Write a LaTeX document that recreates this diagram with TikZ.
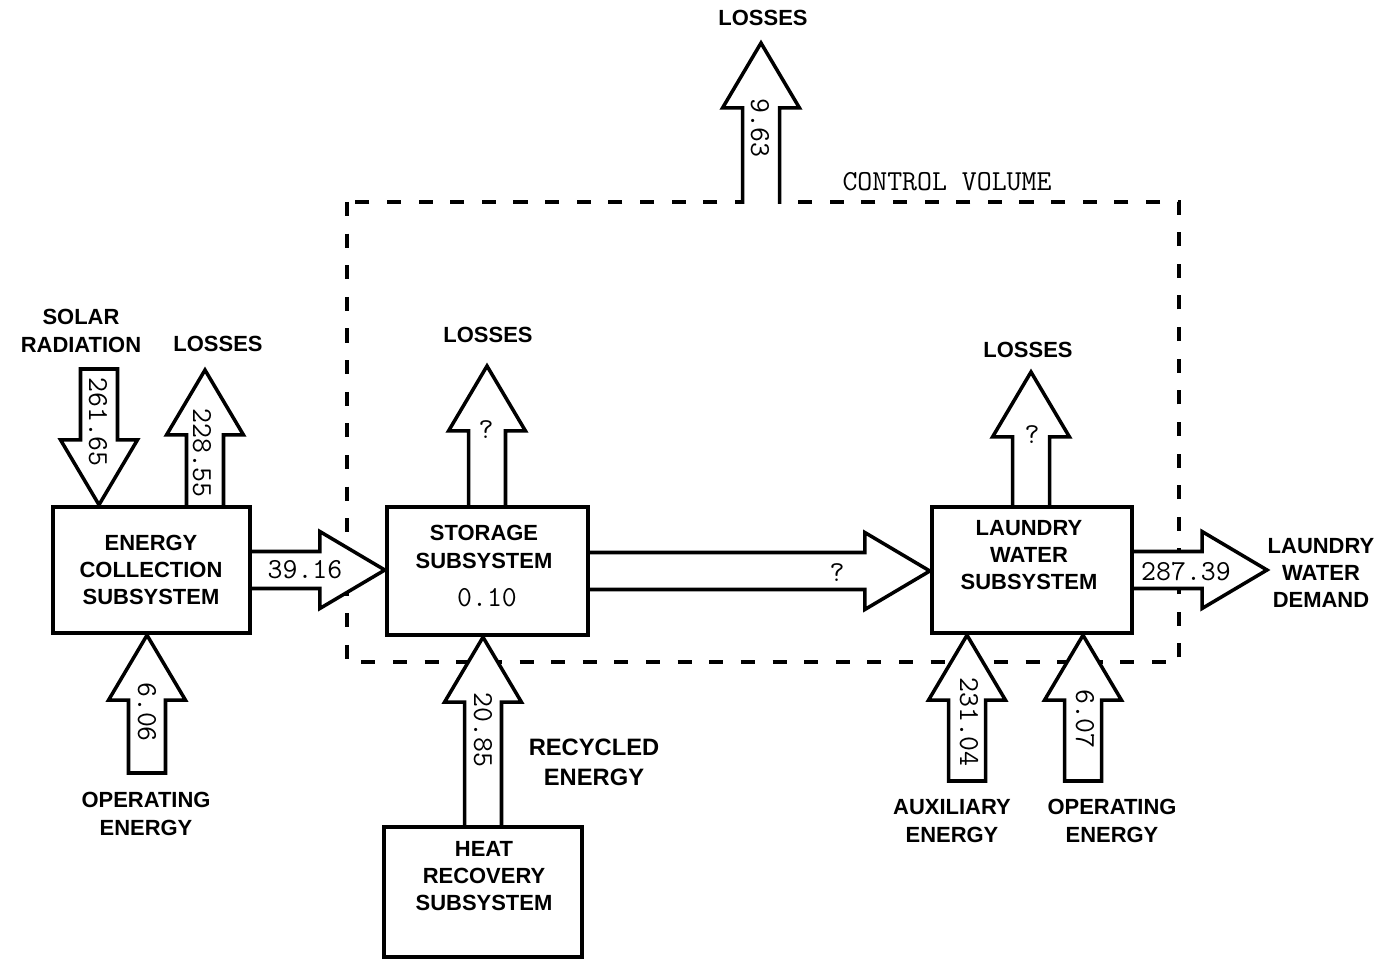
\documentclass[tikz,border=0pt]{standalone}
\usepackage{fontspec}
\setsansfont{Liberation Sans}
\usetikzlibrary{calc}

% block arrow outline from start (base) to target (tip)
\newcommand{\shaftw}{0.37cm}
\newcommand{\headw}{0.77cm}
\newcommand{\headl}{1.3cm}
\newcommand{\flowoutline}{let \p1=(\tikztostart), \p2=(\tikztotarget),
    \n1={atan2(\y2-\y1,\x2-\x1)}, \n2={veclen(\x2-\x1,\y2-\y1)} in
    ([shift={(\p1)},rotate=\n1]0pt,\shaftw)
    -- ([shift={(\p1)},rotate=\n1]\n2-\headl,\shaftw)
    -- ([shift={(\p1)},rotate=\n1]\n2-\headl,\headw)
    -- (\p2)
    -- ([shift={(\p1)},rotate=\n1]\n2-\headl,-\headw)
    -- ([shift={(\p1)},rotate=\n1]\n2-\headl,-\shaftw)
    -- ([shift={(\p1)},rotate=\n1]0pt,-\shaftw)}

\pgfdeclarelayer{back}
\pgfsetlayers{back,main}

\begin{document}
\begin{tikzpicture}[x=0.02cm, y=-0.02cm,
  box/.style={rectangle, draw, line width=2.5pt, minimum width=3.94cm,
              minimum height=2.52cm, inner sep=0pt},
  lbl/.style={font=\sffamily\bfseries\fontsize{12.5}{15.5}\selectfont,
              align=center, inner sep=0pt},
  num/.style={font=\ttfamily\addfontfeature{FakeBold=1.2}\fontsize{16.5}{18}\selectfont,
              inner sep=0pt},
  flow/.style={draw, fill=white, line width=2pt, line join=miter,
               to path={\flowoutline}},
  flowin/.style={flow, to path={\flowoutline -- cycle}},
  cv/.style={dash pattern=on 8pt off 10pt, line width=2pt}
]
\useasboundingbox (0,0) rectangle (1389,959);

% subsystems
\node[box] (ec) at (151.5,570) {};
\node[box, minimum width=4.02cm, minimum height=2.56cm] (st) at (487.5,571) {};
\node[box, minimum width=4cm] (lw) at (1032,570) {};
\node[box, minimum width=3.96cm, minimum height=2.6cm] (hr) at (483,892) {};

\node[lbl] (ectext) at (151,570) {ENERGY\\COLLECTION\\SUBSYSTEM};
\node[lbl] (sttext) at (484,547) {STORAGE\\SUBSYSTEM};
\node[num] (stval) at (487,598) {0.10};
\node[lbl] (lwtext) at (1029,555) {LAUNDRY\\WATER\\SUBSYSTEM};
\node[lbl] (hrtext) at (484,876) {HEAT\\RECOVERY\\SUBSYSTEM};

% free ends of the flows
\coordinate (solar) at (99,369);
\coordinate (loss1) at (205,370);
\coordinate (op1) at (147,773);
\coordinate (sloss) at (487,366);
\coordinate (rec) at (483,0);
\coordinate (lloss) at (1031,372);
\coordinate (outtip) at (1267,570);
\coordinate (aux) at (967,781);
\coordinate (op2) at (1083,781);
\coordinate (topbase) at (761,204);
\coordinate (toptip) at (761,43);

\begin{pgfonlayer}{back}
\fill[white] (0,0) rectangle (1389,959);
\draw[cv] (347,202) rectangle (1179,662);
\draw[flowin] (solar) to (solar |- ec.north);
\draw[flow] (loss1 |- ec.north) to (loss1);
\draw[flow] (ec.east) to (ec.east -| st.west);
\draw[flowin] (op1) to (op1 |- ec.south);
\draw[flow] (sloss |- st.north) to (sloss);
\draw[flow] (st.east) to (st.east -| lw.west);
\draw[flow] (rec |- hr.north) to (rec |- st.south);
\draw[flow] (lloss |- lw.north) to (lloss);
\draw[flow] (lw.east) to (outtip);
\draw[flowin] (aux) to (aux |- lw.south);
\draw[flowin] (op2) to (op2 |- lw.south);
\draw[flow] (topbase) to (toptip);
\end{pgfonlayer}

% values on the flows
\node[num, rotate=-90] (vsolar) at (98,422) {261.65};
\node[num, rotate=-90] (vloss1) at (202,453) {228.55};
\node[num] (ve2s) at (305,570) {39.16};
\node[num, rotate=-90] (vop1) at (147,712) {6.06};
\node[num] (vsloss) at (486,430) {?};
\node[num] (vs2l) at (837,573) {?};
\node[num, rotate=-90] (vrec) at (483,730) {20.85};
\node[num] (vlloss) at (1032,435) {?};
\node[num] (vout) at (1186,572) {287.39};
\node[num, rotate=-90] (vaux) at (969,722) {231.04};
\node[num, rotate=-90] (vop2) at (1085,719) {6.07};
\node[num, rotate=-90] (vtop) at (760,128) {9.63};

% labels
\node[lbl] (lsolar) at (81,331) {SOLAR\\RADIATION};
\node[lbl] (lloss1) at (218,344) {LOSSES};
\node[lbl] (lop1) at (146,814) {OPERATING\\ENERGY};
\node[lbl] (lsloss) at (488,335) {LOSSES};
\node[lbl, font=\sffamily\bfseries\fontsize{13.5}{17}\selectfont] (lrec) at (594,762) {RECYCLED\\ENERGY};
\node[lbl] (llloss) at (1028,350) {LOSSES};
\node[lbl] (lout) at (1321,573) {LAUNDRY\\WATER\\DEMAND};
\node[lbl] (laux) at (952,821) {AUXILIARY\\ENERGY};
\node[lbl] (lop2) at (1112,821) {OPERATING\\ENERGY};
\node[lbl] (ltop) at (763,18) {LOSSES};
\node[num] (lcv) at (947,182) {CONTROL VOLUME};
\end{tikzpicture}
\end{document}
